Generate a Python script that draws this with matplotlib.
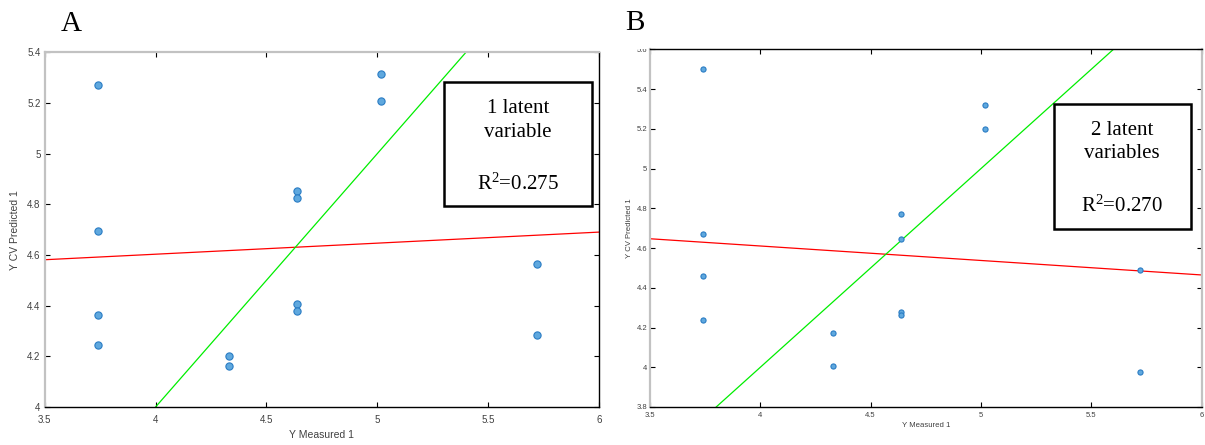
import numpy as np
import matplotlib
matplotlib.use("Agg")
import matplotlib.pyplot as plt
from matplotlib.transforms import Bbox, TransformedBbox

plt.rcParams["font.family"] = ["Liberation Sans", "DejaVu Sans"]
plt.rcParams["mathtext.fontset"] = "custom"
plt.rcParams["mathtext.rm"] = "Liberation Serif"
plt.rcParams["mathtext.it"] = "Liberation Serif:italic"

# Measured vs cross-validated predicted values
measured = [3.739, 3.739, 3.739, 3.739, 4.329, 4.329, 4.638, 4.638, 4.638, 4.638,
            5.019, 5.019, 5.719, 5.719]
pred_1lv = [5.272, 4.696, 4.364, 4.245, 4.200, 4.163, 4.851, 4.825, 4.408, 4.380,
            5.314, 5.209, 4.566, 4.283]
pred_2lv = [5.499, 4.670, 4.458, 4.238, 4.170, 4.005, 4.773, 4.647, 4.278, 4.265,
            5.319, 5.200, 4.487, 3.977]

panel_letters = ["A", "B"]
box_lines_a = ["1 latent", "variable", r"R$^{\mathrm{2}}$=0.275"]
box_lines_b = ["2 latent", "variables", r"R$^{\mathrm{2}}$=0.270"]

x_ticks = [3.5, 4, 4.5, 5, 5.5, 6]
x_ticklabels = ["3.5", "4", "4.5", "5", "5.5", "6"]
y_ticks_a = [4, 4.2, 4.4, 4.6, 4.8, 5, 5.2, 5.4]
y_ticklabels_a = ["4", "4.2", "4.4", "4.6", "4.8", "5", "5.2", "5.4"]
y_ticks_b = [3.8, 4, 4.2, 4.4, 4.6, 4.8, 5, 5.2, 5.4, 5.6]
y_ticklabels_b = ["3.8", "4", "4.2", "4.4", "4.6", "4.8", "5", "5.2", "5.4", "5.6"]

GRAY_SPINE = "#c2c2c2"
TICK_TXT = "#404040"
FILL = "#5fa8de"
EDGE = "#2a7cc4"

fig = plt.figure(figsize=(12.05, 4.45), dpi=100)
ax_a = fig.add_axes([0.0371, 0.0854, 0.4600, 0.7971])
ax_b = fig.add_axes([0.5394, 0.0854, 0.4579, 0.8038])


def draw_panel(ax, yvals, yticks, yticklabels, ylim, msize, fs_tick, fs_label,
               ypad, xpad, ylabpad, xlabpad, gray_sides):
    x = np.asarray(measured)
    y = np.asarray(yvals)
    xs = np.array([3.5, 6.0])
    # least-squares fit of predicted on measured
    slope, intercept = np.polyfit(x, y, 1)
    ax.plot(xs, slope * xs + intercept, color="#ff0000", lw=0.9, zorder=2)
    # 1:1 reference line
    ax.plot(xs, xs, color="#00ee00", lw=0.9, zorder=2)
    ax.plot(x, y, "o", ms=msize, mfc=FILL, mec=EDGE, mew=0.8, zorder=3)

    ax.set_xlim(3.5, 6)
    ax.set_ylim(*ylim)
    ax.set_xticks(x_ticks)
    ax.set_xticklabels(x_ticklabels)
    ax.set_yticks(yticks)
    ax.set_yticklabels(yticklabels)
    ax.tick_params(direction="in", top=True, right=True, length=3.8, width=0.8,
                   color="black", labelcolor=TICK_TXT, labelsize=fs_tick)
    ax.tick_params(axis="y", pad=ypad)
    ax.tick_params(axis="x", pad=xpad)
    ax.set_xlabel("Y Measured 1", fontsize=fs_label, color=TICK_TXT, labelpad=xlabpad)
    ax.set_ylabel("Y CV Predicted 1", fontsize=fs_label, color=TICK_TXT, labelpad=ylabpad)
    for side, sp in ax.spines.items():
        if side in gray_sides:
            sp.set_color(GRAY_SPINE)
            sp.set_linewidth(1.6)
        else:
            sp.set_color("black")
            sp.set_linewidth(1.0)


draw_panel(ax_a, pred_1lv, y_ticks_a, y_ticklabels_a, (4, 5.4), 5.2, 7, 7.5,
           3, 6, 5, 3.5, ("left", "top"))
draw_panel(ax_b, pred_2lv, y_ticks_b, y_ticklabels_b, (3.8, 5.6), 3.7, 5.5, 5.6,
           2, 3.5, 2.5, 2.5, ("left", "right"))

# top tick label of panel B is cut at the figure edge of the panel
top_lbl = ax_b.yaxis.get_major_ticks()[-1].label1
top_lbl.set_clip_on(True)
top_lbl.set_clip_box(TransformedBbox(Bbox([[0, 0], [1, 0.889]]), fig.transFigure))


def text_box(ax, x0, x1, y0, y1, lines, ys, xc):
    rect = plt.Rectangle((x0, y0), x1 - x0, y1 - y0, transform=ax.transAxes,
                         fill=True, facecolor="white", edgecolor="black",
                         lw=1.8, zorder=4)
    ax.add_patch(rect)
    for txt, yy in zip(lines, ys):
        ax.text(xc, yy, txt, transform=ax.transAxes, ha="center", va="baseline",
                fontsize=15, family=["Liberation Serif"], color="black", zorder=5)


text_box(ax_a, 0.721, 0.988, 0.567, 0.917, box_lines_a, [0.828, 0.762, 0.612], 0.854)
text_box(ax_b, 0.732, 0.981, 0.498, 0.848, box_lines_b, [0.760, 0.695, 0.546], 0.856)

fig.text(0.0506, 0.930, panel_letters[0], fontsize=21, family=["Liberation Serif"],
         ha="left", va="baseline")
fig.text(0.5187, 0.9326, panel_letters[1], fontsize=21, family=["Liberation Serif"],
         ha="left", va="baseline")

fig.savefig("out.png", dpi=100)
